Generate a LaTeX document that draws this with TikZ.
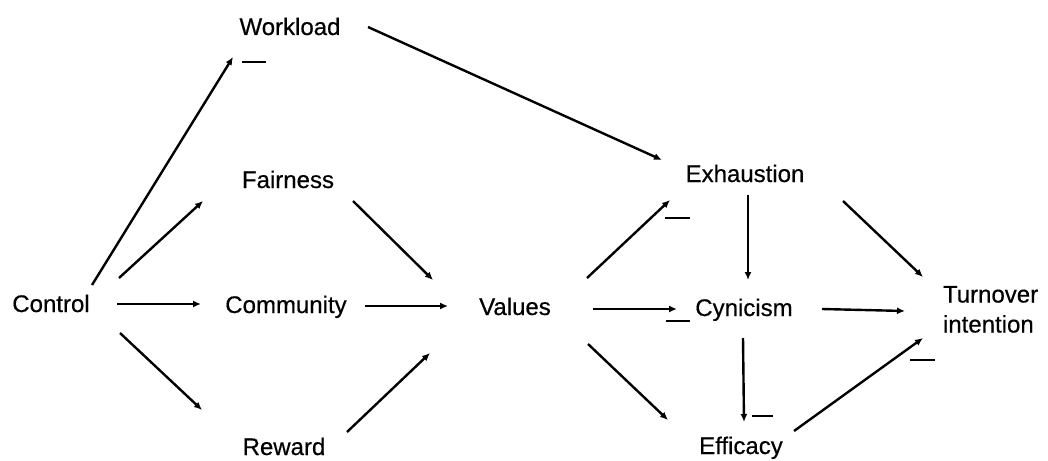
\documentclass[tikz,border=0pt]{standalone}
\usepackage{fontspec}
\setmainfont{Liberation Sans}
\newfontfamily\lblfont{Liberation Sans}[FakeBold=0.5]
\usetikzlibrary{calc,arrows.meta}
\tikzset{
  lbl/.style={inner sep=0pt, outer sep=0pt, font=\lblfont\fontsize{24}{30}\selectfont, anchor=base},
  arr/.style={line width=2.4pt, -{Latex[length=8pt,width=7pt]}},
  negsign/.style={fill=black, draw=none, inner sep=0pt, minimum height=2.6pt, minimum width=24pt}
}
\begin{document}
\begin{tikzpicture}[x=1pt,y=-1pt]
\useasboundingbox (0,0) rectangle (1048,460);
% nodes
\node[lbl] (work) at (290,35) {Workload};
\node[lbl] (fair) at (288,188) {Fairness};
\node[lbl] (ctrl) at (51,312) {Control};
\node[lbl] (comm) at (286,313) {Community};
\node[lbl] (vals) at (515,315) {Values};
\node[lbl] (rew) at (284,455) {Reward};
\node[lbl] (exh) at (745,182) {Exhaustion};
\node[lbl] (cyn) at (744,316) {Cynicism};
\node[lbl] (eff) at (741,454) {Efficacy};
\node[lbl, anchor=north west, align=left] (turn) at (943,286) {Turnover\\intention};
% negative signs
\node[negsign] (m1) at (254,62) {};
\node[negsign, minimum width=25pt] (m2) at (677,218) {};
\node[negsign] (m3) at (678,321) {};
\node[negsign, minimum width=21pt] (m4) at (762,416) {};
\node[negsign, minimum width=25pt] (m5) at (922,360) {};
% connectors
\draw[arr] ($(ctrl.base)+(41,-27)$) -- ($(work.base)+(-57,22)$);
\draw[arr] ($(ctrl.base)+(68,-34)$) -- ($(fair.base)+(-85,13)$);
\draw[arr] ($(ctrl.base)+(66,-8)$) -- ($(comm.base)+(-85,-9)$);
\draw[arr] ($(ctrl.base)+(69,21)$) -- ($(rew.base)+(-82,-45)$);
\draw[arr] ($(fair.base)+(65,13)$) -- ($(vals.base)+(-82,-35)$);
\draw[arr] ($(comm.base)+(79,-7)$) -- ($(vals.base)+(-67,-9)$);
\draw[arr] ($(rew.base)+(63,-23)$) -- ($(vals.base)+(-85,38)$);
\draw[arr] ($(work.base)+(78,-8)$) -- ($(exh.base)+(-83,-22)$);
\draw[arr] ($(vals.base)+(72,-37)$) -- ($(exh.base)+(-75,18)$);
\draw[arr] ($(vals.base)+(78,-6)$) -- ($(cyn.base)+(-67,-7)$);
\draw[arr] ($(vals.base)+(73,29)$) -- ($(eff.base)+(-73,-34)$);
\draw[arr] ($(exh.base)+(3,13)$) -- ($(cyn.base)+(4,-36)$);
\draw[arr] ($(exh.base)+(98,19)$) -- ($(turn.north west)+(-20,-9)$);
\draw[arr] ($(cyn.base)+(78,-7)$) -- ($(turn.north west)+(-38,25)$);
\draw[arr] ($(cyn.base)+(-1,22)$) -- ($(eff.base)+(3,-32)$);
\draw[arr] ($(eff.base)+(53,-23)$) -- ($(turn.north west)+(-20,52)$);
\end{tikzpicture}
\end{document}
